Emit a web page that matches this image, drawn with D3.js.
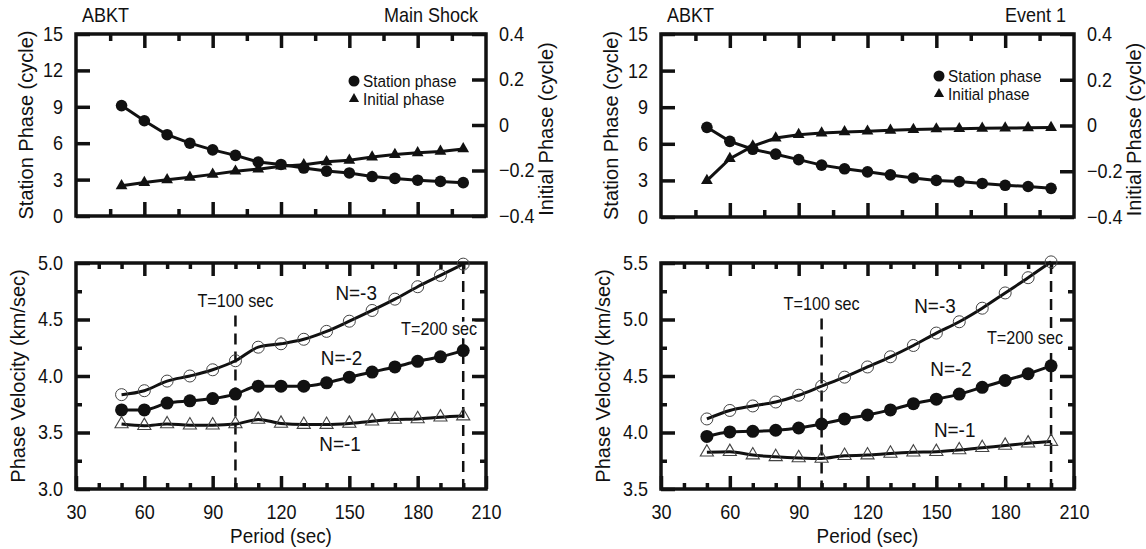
<!DOCTYPE html>
<html lang="en">
<head>
<meta charset="UTF-8">
<title>ABKT phase velocity</title>
<script src="https://cdn.jsdelivr.net/npm/d3@7"></script>
<style>
    body { margin: 0; background: #fff; }
    text { font-family: "Liberation Sans", Arial, Helvetica, sans-serif; fill: #111; }
</style>
</head>
<body>
<svg id="chart" width="1146" height="549"></svg>
<script>
    // periods (sec)
    var periods = [50, 60, 70, 80, 90, 100, 110, 120, 130, 140, 150, 160, 170, 180, 190, 200];

    // top panels: station phase (cycle, left axis), initial phase (cycle, right axis)
    var mainStation = [9.1, 7.85, 6.7, 6.0, 5.45, 5.0, 4.45, 4.25, 3.95, 3.7, 3.55, 3.25, 3.1, 2.95, 2.85, 2.75];
    var mainInitial = [-0.267, -0.253, -0.241, -0.23, -0.217, -0.203, -0.194, -0.181, -0.175, -0.162, -0.155, -0.141, -0.13, -0.122, -0.116, -0.105];
    var ev1Station = [7.35, 6.2, 5.55, 5.15, 4.7, 4.25, 3.95, 3.7, 3.45, 3.2, 3.0, 2.9, 2.75, 2.6, 2.5, 2.35];
    var ev1Initial = [-0.241, -0.145, -0.09, -0.055, -0.04, -0.033, -0.028, -0.025, -0.021, -0.018, -0.015, -0.014, -0.012, -0.011, -0.01, -0.009];

    // bottom panels: phase velocity (km/sec) for N=-3, -2, -1
    var mainN3 = [3.835, 3.87, 3.955, 4.0, 4.055, 4.135, 4.255, 4.285, 4.325, 4.395, 4.485, 4.58, 4.68, 4.79, 4.89, 4.99];
    var mainN2 = [3.70, 3.70, 3.76, 3.78, 3.80, 3.84, 3.91, 3.91, 3.91, 3.94, 3.99, 4.035, 4.08, 4.13, 4.17, 4.225];
    var mainN1 = [3.575, 3.56, 3.575, 3.565, 3.565, 3.575, 3.615, 3.58, 3.57, 3.57, 3.58, 3.6, 3.615, 3.62, 3.635, 3.645];
    var ev1N3 = [4.12, 4.195, 4.235, 4.27, 4.33, 4.41, 4.49, 4.58, 4.67, 4.77, 4.88, 4.98, 5.10, 5.235, 5.37, 5.51];
    var ev1N2 = [3.965, 4.005, 4.01, 4.02, 4.04, 4.075, 4.12, 4.155, 4.2, 4.255, 4.295, 4.34, 4.4, 4.46, 4.52, 4.59];
    var ev1N1 = [3.825, 3.83, 3.8, 3.785, 3.775, 3.77, 3.795, 3.8, 3.815, 3.825, 3.83, 3.845, 3.865, 3.885, 3.905, 3.92];

    // tick labels
    var periodTicks = [30, 60, 90, 120, 150, 180, 210];
    var stationTicks = [0, 3, 6, 9, 12, 15];
    var initialTicks = [-0.4, -0.2, 0, 0.2, 0.4];
    var mainVelTicks = [3.0, 3.5, 4.0, 4.5, 5.0];
    var ev1VelTicks = [3.5, 4.0, 4.5, 5.0, 5.5];

    var svg = d3.select('#chart');
    var SQ = 0.9; // the figure's lettering is a little narrow

    // plot boxes, drawn straight onto the svg first
    svg.append('rect').attr('x', 76).attr('y', 34).attr('width', 410).attr('height', 182)
        .attr('fill', 'none').attr('stroke', '#111').attr('stroke-width', 3.5);
    svg.append('rect').attr('x', 661).attr('y', 34).attr('width', 413).attr('height', 183)
        .attr('fill', 'none').attr('stroke', '#111').attr('stroke-width', 3.5);
    svg.append('rect').attr('x', 76).attr('y', 263).attr('width', 410).attr('height', 226)
        .attr('fill', 'none').attr('stroke', '#111').attr('stroke-width', 3.5);
    svg.append('rect').attr('x', 661).attr('y', 263).attr('width', 413).attr('height', 226)
        .attr('fill', 'none').attr('stroke', '#111').attr('stroke-width', 3.5);

    function squeeze(sel) {
        sel.each(function() {
            var t = d3.select(this);
            var x = +t.attr('x') || 0, y = +t.attr('y') || 0;
            t.attr('x', 0).attr('y', 0)
                .attr('transform', 'translate(' + x + ',' + y + ') scale(' + SQ + ',1)');
        });
    }

    function label(g, x, y, str, size, anchor) {
        return g.append('text')
            .attr('transform', 'translate(' + x + ',' + y + ') scale(' + SQ + ',1)')
            .attr('font-size', size)
            .attr('text-anchor', anchor || 'start')
            .text(str);
    }

    function vlabel(g, x, y, str) {
        g.append('text')
            .attr('transform', 'translate(' + x + ',' + y + ') rotate(-90)')
            .attr('font-size', 20)
            .attr('text-anchor', 'middle')
            .attr('dy', '0.35em')
            .text(str);
    }

    function addAxis(g, axis, values, size, fmt, pad) {
        var a = g.append('g')
            .call(axis.tickValues(values).tickSize(-size).tickPadding(pad || 13)
                .tickFormat(fmt ? fmt : function() { return ''; }));
        a.attr('font-size', null).attr('font-family', null);
        a.selectAll('.domain').remove();
        a.selectAll('.tick line').attr('stroke', '#111').attr('stroke-width', 3.5);
        a.selectAll('.tick text').attr('font-size', 20);
        squeeze(a.selectAll('.tick text'));
        return a;
    }

    var tri = d3.symbol().type(d3.symbolTriangle);

    function drawTop(ox, oy, w, h, title, station, initial, legY) {
        var g = svg.append('g').attr('transform', 'translate(' + ox + ',' + oy + ')');
        var x = d3.scaleLinear().domain([30, 210]).range([0, w]);
        var yL = d3.scaleLinear().domain([0, 15]).range([h, 0]);
        var yR = d3.scaleLinear().domain([-0.4, 0.4]).range([h, 0]);

        var longX = d3.range(60, 210, 30), shortX = d3.range(45, 210, 30);
        var bottom = g.append('g').attr('transform', 'translate(0,' + h + ')');
        var right = g.append('g').attr('transform', 'translate(' + w + ',0)');
        addAxis(g, d3.axisTop(x), longX, 14);
        addAxis(g, d3.axisTop(x), shortX, 7);
        addAxis(bottom, d3.axisBottom(x), longX, 14);
        addAxis(bottom, d3.axisBottom(x), shortX, 7);
        addAxis(g, d3.axisLeft(yL), stationTicks, 14, d3.format('d'));
        addAxis(right, d3.axisRight(yR), initialTicks, 14,
            function(d) { return d === 0 ? '0' : d3.format('.1f')(d); });

        var st = periods.map(function(p, i) { return [x(p), yL(station[i])]; });
        var ini = periods.map(function(p, i) { return [x(p), yR(initial[i])]; });
        var line = d3.line();
        g.append('path').attr('d', line(st)).attr('fill', 'none').attr('stroke', '#111').attr('stroke-width', 3);
        g.append('path').attr('d', line(ini)).attr('fill', 'none').attr('stroke', '#111').attr('stroke-width', 3);
        g.selectAll('.st').data(st).enter().append('circle')
            .attr('cx', function(d) { return d[0]; }).attr('cy', function(d) { return d[1]; })
            .attr('r', 5.8).attr('fill', '#111');
        g.selectAll('.ini').data(ini).enter().append('path')
            .attr('d', tri.size(60)())
            .attr('transform', function(d) { return 'translate(' + d[0] + ',' + d[1] + ')'; })
            .attr('fill', '#111');

        // legend
        g.append('circle').attr('cx', 278).attr('cy', legY).attr('r', 5.5).attr('fill', '#111');
        g.append('path').attr('d', tri.size(45)()).attr('transform', 'translate(278,' + (legY + 18) + ')').attr('fill', '#111');
        label(g, 287, legY + 6, 'Station phase', 17);
        label(g, 287, legY + 24, 'Initial phase', 17);

        label(g, 6, -12, 'ABKT', 20);
        label(g, w - 8, -12, title, 20, 'end');
        vlabel(g, -50, h / 2, 'Station Phase (cycle)');
        vlabel(g, w + 60, h / 2 + 4, 'Initial Phase (cycle)');
    }

    function drawBottom(ox, oy, w, h, domain, velTicks, n3, n2, n1, notes) {
        var g = svg.append('g').attr('transform', 'translate(' + ox + ',' + oy + ')');
        var x = d3.scaleLinear().domain([30, 210]).range([0, w]);
        var y = d3.scaleLinear().domain(domain).range([h, 0]);

        var longX = d3.range(60, 210, 30);
        var shortX = d3.range(40, 210, 10).filter(function(d) { return d % 30 !== 0; });
        var bottom = g.append('g').attr('transform', 'translate(0,' + h + ')');
        var right = g.append('g').attr('transform', 'translate(' + w + ',0)');
        var minorY = d3.range(domain[0] + 0.25, domain[1], 0.5);
        addAxis(g, d3.axisTop(x), longX, 13);
        addAxis(g, d3.axisTop(x), shortX, 6);
        addAxis(bottom, d3.axisBottom(x), periodTicks, 13, d3.format('d'), 16);
        addAxis(bottom, d3.axisBottom(x), shortX, 6);
        addAxis(g, d3.axisLeft(y), velTicks, 14, d3.format('.1f'));
        addAxis(g, d3.axisLeft(y), minorY, 6);
        addAxis(right, d3.axisRight(y), velTicks.slice(1, -1), 14);
        addAxis(right, d3.axisRight(y), minorY, 6);

        // reference periods
        g.append('line').attr('x1', x(100)).attr('x2', x(100))
            .attr('y1', y(notes.t100top)).attr('y2', h)
            .attr('stroke', '#111').attr('stroke-width', 2.5).attr('stroke-dasharray', '11,7');
        g.append('line').attr('x1', x(200)).attr('x2', x(200))
            .attr('y1', 0).attr('y2', h)
            .attr('stroke', '#111').attr('stroke-width', 2.5).attr('stroke-dasharray', '11,7');

        var curve = d3.line().curve(d3.curveMonotoneX);
        var sets = [n3, n2, n1].map(function(v) {
            return periods.map(function(p, i) { return [x(p), y(v[i])]; });
        });
        sets.forEach(function(s) {
            g.append('path').attr('d', curve(s)).attr('fill', 'none').attr('stroke', '#111').attr('stroke-width', 3);
        });
        g.selectAll('.n3').data(sets[0]).enter().append('circle')
            .attr('cx', function(d) { return d[0]; }).attr('cy', function(d) { return d[1]; })
            .attr('r', 6).attr('fill', 'none').attr('stroke', '#444').attr('stroke-width', 1);
        g.selectAll('.n2').data(sets[1]).enter().append('circle')
            .attr('cx', function(d) { return d[0]; }).attr('cy', function(d) { return d[1]; })
            .attr('r', 6.5).attr('fill', '#111');
        g.selectAll('.n1').data(sets[2]).enter().append('path')
            .attr('d', tri.size(75)())
            .attr('transform', function(d) { return 'translate(' + d[0] + ',' + d[1] + ')'; })
            .attr('fill', 'none').attr('stroke', '#444').attr('stroke-width', 1.1);

        notes.labels.forEach(function(n) {
            var t = label(g, x(n.p), y(n.v), n.text, n.size, n.anchor);
            if (n.halo) {
                t.attr('stroke', '#fff').attr('stroke-width', 7).attr('paint-order', 'stroke');
            }
        });

        label(g, w / 2, h + 54, 'Period (sec)', 21, 'middle');
        vlabel(g, -58, h / 2, 'Phase Velocity (km/sec)');
    }

    drawTop(76, 34, 410, 182, 'Main Shock', mainStation, mainInitial, 47);
    drawTop(661, 34, 413, 183, 'Event 1', ev1Station, ev1Initial, 42);

    drawBottom(76, 263, 410, 226, [3.0, 5.0], mainVelTicks, mainN3, mainN2, mainN1, {
        t100top: 4.535,
        labels: [
            {text: 'T=100 sec', p: 100, v: 4.61, size: 18, anchor: 'middle'},
            {text: 'T=200 sec', p: 206.1, v: 4.36, size: 18, anchor: 'end', halo: true},
            {text: 'N=-3', p: 153, v: 4.675, size: 21, anchor: 'middle'},
            {text: 'N=-2', p: 146.6, v: 4.10, size: 21, anchor: 'middle'},
            {text: 'N=-1', p: 145.9, v: 3.337, size: 21, anchor: 'middle'}
        ]
    });
    drawBottom(661, 263, 413, 226, [3.5, 5.5], ev1VelTicks, ev1N3, ev1N2, ev1N1, {
        t100top: 5.009,
        labels: [
            {text: 'T=100 sec', p: 100, v: 5.084, size: 18, anchor: 'middle'},
            {text: 'T=200 sec', p: 205.2, v: 4.78, size: 18, anchor: 'end', halo: true},
            {text: 'N=-3', p: 149.4, v: 5.06, size: 21, anchor: 'middle'},
            {text: 'N=-2', p: 156.4, v: 4.50, size: 21, anchor: 'middle'},
            {text: 'N=-1', p: 158, v: 3.958, size: 21, anchor: 'middle'}
        ]
    });
</script>
</body>
</html>
